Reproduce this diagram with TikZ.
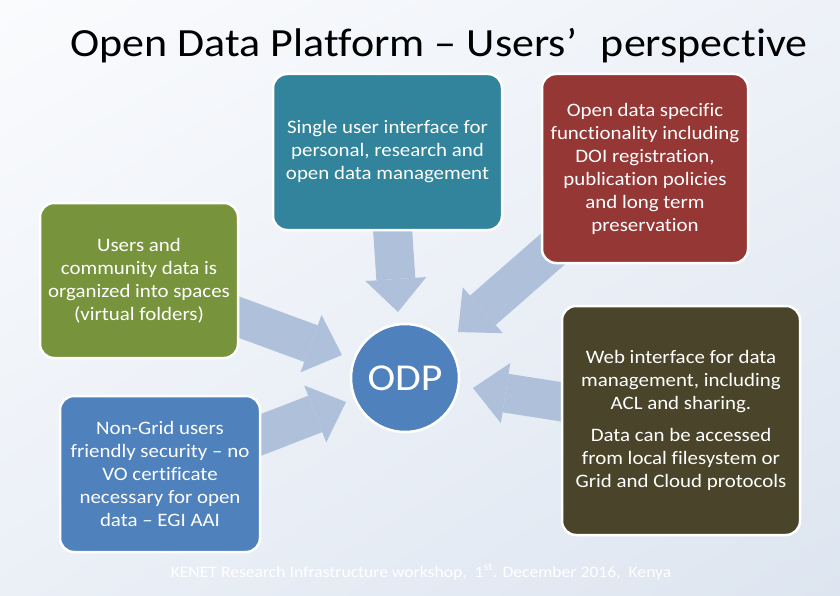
\documentclass[tikz,border=0pt]{standalone}
\usepackage{fontspec}
\setmainfont{Carlito}[Ligatures=NoCommon, FakeStretch=1.1]
\usetikzlibrary{arrows.meta,calc,shadings}
\pgfdeclarelayer{bg}
\pgfsetlayers{bg,main}
\definecolor{tealbox}{HTML}{31849B}
\definecolor{redbox}{HTML}{953735}
\definecolor{greenbox}{HTML}{77933C}
\definecolor{bluebox}{HTML}{4F81BD}
\definecolor{olivebox}{HTML}{4A452A}
\definecolor{arrowcol}{HTML}{AFC0DB}
\definecolor{bgA}{HTML}{FAFBFD}
\definecolor{bgB}{HTML}{EEF2F8}
\definecolor{bgC}{HTML}{EBF0F7}
\definecolor{bgD}{HTML}{DDE5F0}
\tikzset{
  infobox/.style={rounded corners=14pt, draw=white, line width=2.5pt, text=white,
    align=center, inner sep=0pt, font=\fontsize{19}{23}\selectfont},
  hub/.style={circle, draw=white, line width=2.5pt, fill=bluebox, text=white,
    minimum size=108pt, inner sep=0pt, font=\fontsize{38}{40}\selectfont},
  bigarrow/.style={draw=arrowcol, line width=39pt,
    -{Triangle[length=33pt, width=61pt, line width=0pt]}},
  titletext/.style={font=\fontsize{40}{44}\selectfont, text=black, inner sep=0pt},
  footer/.style={font=\fontsize{16}{18}\selectfont, text=white, inner sep=0pt}
}
\begin{document}
\begin{tikzpicture}[x=1pt,y=-1pt]
\useasboundingbox (0,0) rectangle (840,596);
\begin{pgfonlayer}{bg}
\shade[upper left=bgA, upper right=bgB, lower left=bgC, lower right=bgD] (0,0) rectangle (840,596);
\end{pgfonlayer}

\node[titletext, anchor=base] (title) at (439,57) {Open Data Platform – Users’\hspace{0.6em}perspective};

\node[infobox, fill=tealbox, minimum width=229pt, minimum height=156pt] (teal) at (387.5,152)
  {Single user interface for\\personal, research and\\open data management};
\node[infobox, fill=redbox, minimum width=206pt, minimum height=189pt] (red) at (645,168.5)
  {Open data specific\\functionality including\\DOI registration,\\publication policies\\and long term\\preservation};
\node[infobox, fill=greenbox, minimum width=198pt, minimum height=155pt] (green) at (139,280.5)
  {Users and\\community data is\\organized into spaces\\(virtual folders)};
\node[infobox, fill=bluebox, minimum width=200pt, minimum height=156pt] (blue) at (160,474)
  {Non-Grid users\\friendly security – no\\VO certificate\\necessary for open\\data – EGI AAI};
\node[infobox, fill=olivebox, minimum width=238pt, minimum height=229pt] (olive) at (681,420.5)
  {Web interface for data\\management, including\\ACL and sharing.\\[9pt]Data can be accessed\\from local filesystem or\\Grid and Cloud protocols};
\node[hub] (odp) at (405,378) {ODP};

\coordinate (tipT) at (398,312);
\coordinate (tipG) at (342,355);
\coordinate (tipB) at (346,402);
\coordinate (tipR) at (458,332);
\coordinate (tipD) at (473,388);

\begin{pgfonlayer}{bg}
\draw[bigarrow] (teal.center) -- (tipT);
\draw[bigarrow] (green.center) -- (tipG);
\draw[bigarrow] (blue.center) -- (tipB);
\draw[bigarrow] (red.center) -- (tipR);
\draw[bigarrow] (olive.center) -- (tipD);
\end{pgfonlayer}

\node[footer, anchor=base] (foot) at (421,577)
  {KENET Research Infrastructure workshop,\ \ 1\textsuperscript{st}. December 2016,\ \ Kenya};
\end{tikzpicture}
\end{document}
